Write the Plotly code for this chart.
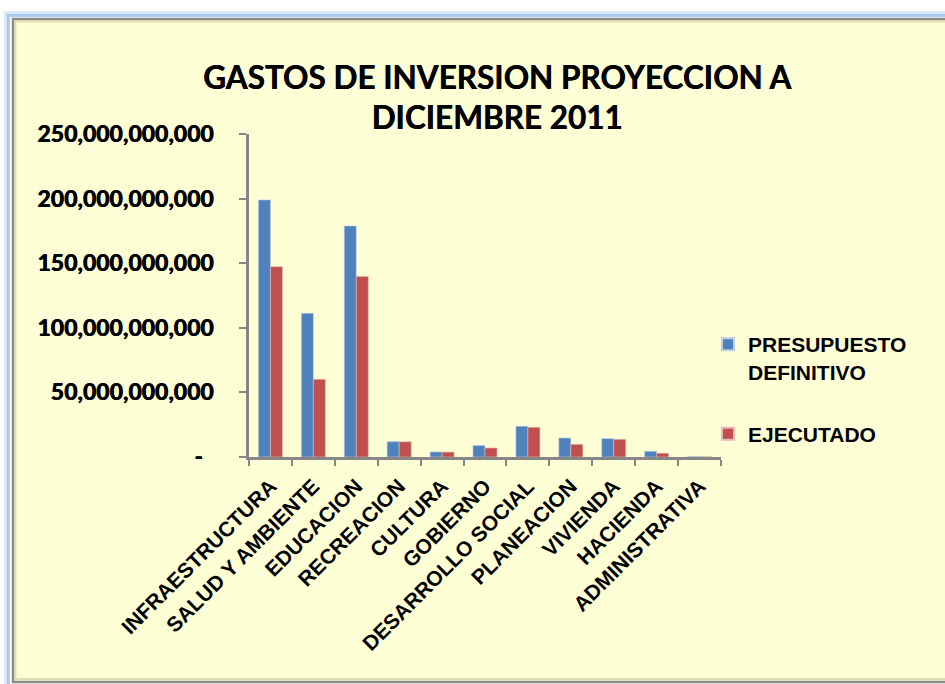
import plotly.graph_objects as go

# Investment spending by sector, projection to December 2011 (pesos)
categories = [
    "INFRAESTRUCTURA", "SALUD Y AMBIENTE", "EDUCACION", "RECREACION", "CULTURA",
    "GOBIERNO", "DESARROLLO SOCIAL", "PLANEACION", "VIVIENDA", "HACIENDA",
    "ADMINISTRATIVA",
]
presupuesto_definitivo = [
    199.0e9, 111.2e9, 178.8e9, 11.9e9, 3.9e9,
    8.9e9, 23.8e9, 14.7e9, 14.2e9, 4.4e9, 0.35e9,
]
ejecutado = [
    147.3e9, 60.1e9, 139.8e9, 11.8e9, 3.8e9,
    7.0e9, 23.0e9, 9.8e9, 13.7e9, 2.9e9, 0.2e9,
]
y_tick_values = [0, 50e9, 100e9, 150e9, 200e9, 250e9]
y_tick_labels = ["-\u00a0\u00a0", "50,000,000,000", "100,000,000,000",
                 "150,000,000,000", "200,000,000,000", "250,000,000,000"]

BLUE = "#4F81BD"
RED = "#C0504D"
BG = "#FFFFD5"
AXIS = "#868686"
HEAVY = "0.5px 0px 0px black"

W, H = 945, 684
L, R, T, B = 249, 224, 134, 227
pw, ph = W - L - R, H - T - B


def px(x):
    return (x - L) / pw


def py(y):
    return (H - B - y) / ph


fig = go.Figure()
fig.add_trace(go.Bar(
    name="PRESUPUESTO<br>DEFINITIVO", x=categories, y=presupuesto_definitivo,
    marker=dict(color=BLUE, line=dict(color="#B9CDE5", width=0.6)),
    legendgroup="a",
))
fig.add_trace(go.Bar(
    name="EJECUTADO", x=categories, y=ejecutado,
    marker=dict(color=RED, line=dict(color="#E6B9B8", width=0.6)),
    legendgroup="b",
))

# chart frame: soft blue glow, gray border, pale yellow fill
shapes = []
for off, width, col in [(6, 4, "rgba(150,190,240,0.35)"),
                        (3.5, 3, "rgba(120,170,235,0.6)")]:
    shapes.append(dict(type="rect", xref="paper", yref="paper", layer="below",
                       x0=px(12 - off), x1=px(960), y0=py(19 - off), y1=py(690),
                       line=dict(color=col, width=width), fillcolor="rgba(0,0,0,0)"))
shapes.append(dict(type="rect", xref="paper", yref="paper", layer="below",
                   x0=px(13), x1=px(960), y0=py(19), y1=py(682),
                   line=dict(color="#8A8A8A", width=2.5), fillcolor=BG))
shapes.append(dict(type="rect", xref="paper", yref="paper", layer="below",
                   x0=px(15.5), x1=px(960), y0=py(21.5), y1=py(679),
                   line=dict(color="rgba(200,200,150,0.6)", width=2),
                   fillcolor="rgba(0,0,0,0)"))

fig.update_layout(
    width=W, height=H,
    margin=dict(l=L, r=R, t=T, b=B, pad=0),
    paper_bgcolor="white",
    plot_bgcolor="rgba(0,0,0,0)",
    shapes=shapes,
    barmode="group",
    bargap=0.44,
    bargroupgap=0,
    title=dict(
        text="<b>GASTOS DE INVERSION PROYECCION A<br>DICIEMBRE 2011</b>",
        font=dict(family="Lato", size=31.5, color="black", shadow=HEAVY),
        x=px(497), xref="paper", xanchor="center",
        y=1 - 88.5 / H, yref="container", yanchor="middle",
    ),
    legend=dict(
        x=px(708), xanchor="left", y=py(324), yanchor="top",
        font=dict(family="Liberation Sans", size=21, color="black", weight="bold"),
        bgcolor="rgba(0,0,0,0)",
        traceorder="grouped", tracegroupgap=32, valign="top",
        itemsizing="constant",
    ),
    xaxis=dict(
        showline=True, linecolor=AXIS, linewidth=2.5,
        ticks="outside", ticklen=6, tickcolor=AXIS, tickwidth=2,
        tickson="boundaries",
        tickangle=-45,
        tickfont=dict(family="Liberation Sans", size=21, color="black", weight="bold"),
        ticklabelstandoff=6,
        showgrid=False, zeroline=False,
    ),
    yaxis=dict(
        range=[0, 250e9],
        tickvals=y_tick_values, ticktext=y_tick_labels,
        showline=True, linecolor=AXIS, linewidth=2.5,
        ticks="outside", ticklen=7, tickcolor=AXIS, tickwidth=2,
        tickfont=dict(family="Lato", size=23, color="black", weight=900, shadow=HEAVY),
        ticklabelstandoff=21,
        showgrid=False, zeroline=False,
    ),
)

fig.write_html("out.html")
